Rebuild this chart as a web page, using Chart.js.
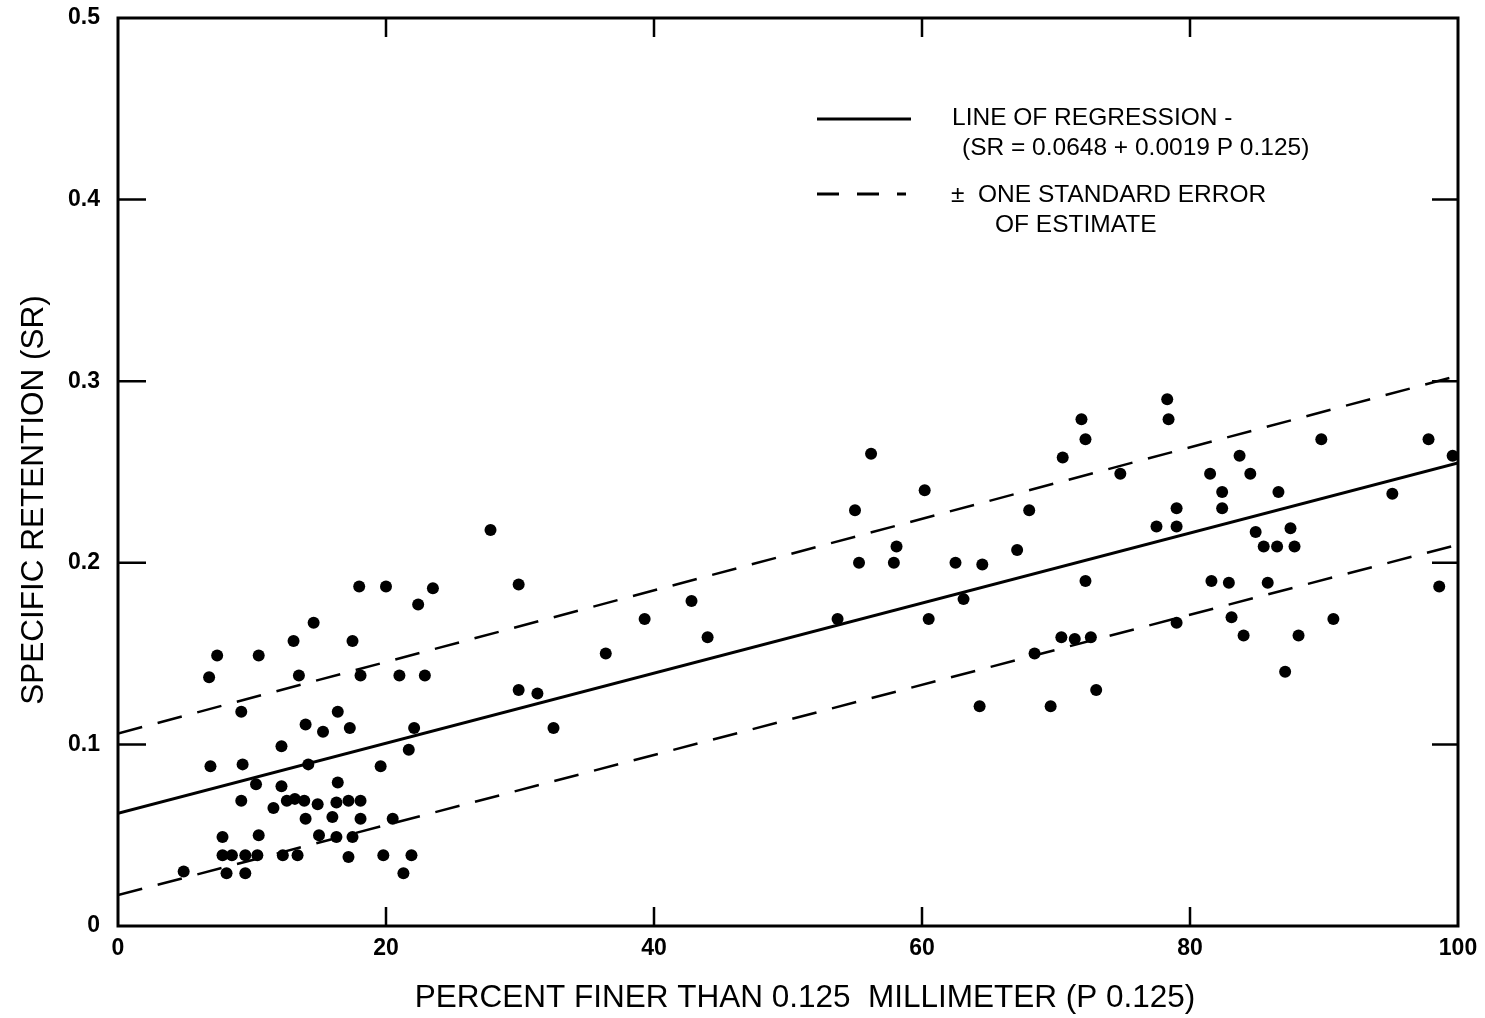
<!DOCTYPE html>
<html>
<head>
<meta charset="utf-8">
<script src="https://cdn.jsdelivr.net/npm/chart.js@4.4.0/dist/chart.umd.min.js"></script>
<style>
  html, body { margin: 0; padding: 0; background: #fff; }
</style>
</head>
<body>
<canvas id="srChart" width="1485" height="1018"></canvas>
<script>
// percent finer than 0.125 mm (x) and specific retention (y)
const pctFiner = [
  4.9, 6.8, 6.9, 7.4, 7.8, 7.8, 8.1, 8.5, 9.2, 9.3, 9.2, 9.5, 9.5, 10.3, 10.5, 10.5, 10.4,
  11.6, 12.2, 12.2, 12.3, 12.6, 13.1, 13.2, 13.5, 13.4, 13.9, 14.0, 14.0, 14.2, 14.6, 14.9,
  15.0, 15.3, 16.0, 16.4, 16.4, 16.3, 16.3, 17.3, 17.2, 17.2, 17.5, 17.5, 18.0, 18.1, 18.1,
  18.1, 19.6, 19.8, 20.0, 20.5, 21.0, 21.3, 21.7, 21.9, 22.1, 22.4, 22.9, 23.5,
  27.8, 29.9, 29.9, 31.3, 32.5, 36.4, 39.3, 42.8, 44.0,
  53.7, 55.0, 55.3, 56.2, 57.9, 58.1, 60.2, 60.5, 62.5, 63.1, 64.3, 64.5, 67.1, 68.0, 68.4,
  69.6, 70.5, 70.4, 71.4, 71.9, 72.2, 72.2, 72.6, 73.0, 74.8,
  78.3, 78.4, 83.7, 81.5, 84.5, 82.4, 86.6, 79.0, 82.4, 77.5, 79.0, 84.9, 87.5, 85.5, 86.5,
  87.8, 81.6, 82.9, 85.8, 79.0, 83.1, 84.0, 88.1, 90.7, 87.1, 89.8, 95.1, 97.8, 99.6, 98.6
];
const specRet = [
  0.030, 0.137, 0.088, 0.149, 0.049, 0.039, 0.029, 0.039, 0.118, 0.089, 0.069, 0.039, 0.029,
  0.078, 0.149, 0.050, 0.039, 0.065, 0.099, 0.077, 0.039, 0.069, 0.157, 0.070, 0.138, 0.039,
  0.069, 0.111, 0.059, 0.089, 0.167, 0.067, 0.050, 0.107, 0.060, 0.118, 0.079, 0.068, 0.049,
  0.109, 0.069, 0.038, 0.049, 0.157, 0.187, 0.138, 0.059, 0.069, 0.088, 0.039, 0.187, 0.059,
  0.138, 0.029, 0.097, 0.039, 0.109, 0.177, 0.138, 0.186,
  0.218, 0.188, 0.130, 0.128, 0.109, 0.150, 0.169, 0.179, 0.159,
  0.169, 0.229, 0.200, 0.260, 0.200, 0.209, 0.240, 0.169, 0.200, 0.180, 0.121, 0.199, 0.207,
  0.229, 0.150, 0.121, 0.258, 0.159, 0.158, 0.279, 0.268, 0.190, 0.159, 0.130, 0.249,
  0.290, 0.279, 0.259, 0.249, 0.249, 0.239, 0.239, 0.230, 0.230, 0.220, 0.220, 0.217, 0.219,
  0.209, 0.209, 0.209, 0.190, 0.189, 0.189, 0.167, 0.170, 0.160, 0.160, 0.169, 0.140, 0.268,
  0.238, 0.268, 0.259, 0.187
];

// regression line and +/- one standard error lines (end points at x = 0 and 100)
const lineX = [0, 100];
const regressY = [0.062, 0.255];
const upperY = [0.106, 0.303];
const lowerY = [0.017, 0.210];

const xTicks = [0, 20, 40, 60, 80, 100];
const yTicks = [0, 0.1, 0.2, 0.3, 0.4, 0.5];
const yTickLabels = ['0', '0.1', '0.2', '0.3', '0.4', '0.5'];

const FONT = '"Liberation Sans", Arial, Helvetica, sans-serif';

function pts(xs, ys) {
  return xs.map((v, i) => ({ x: v, y: ys[i] }));
}

// frame, inward ticks on all four sides, axis titles and the legend box
const decorPlugin = {
  id: 'decor',
  afterDraw(c) {
    const { ctx, chartArea: a, scales } = c;
    ctx.save();
    ctx.strokeStyle = '#000';
    ctx.lineWidth = 3;
    ctx.strokeRect(a.left, a.top, a.right - a.left, a.bottom - a.top);

    ctx.lineWidth = 2.5;
    ctx.beginPath();
    xTicks.slice(1, -1).forEach(v => {
      const px = scales.x.getPixelForValue(v);
      ctx.moveTo(px, a.bottom); ctx.lineTo(px, a.bottom - 19);
      ctx.moveTo(px, a.top); ctx.lineTo(px, a.top + 19);
    });
    yTicks.slice(1, -1).forEach(v => {
      const py = scales.y.getPixelForValue(v);
      ctx.moveTo(a.left, py); ctx.lineTo(a.left + 28, py);
      ctx.moveTo(a.right, py); ctx.lineTo(a.right - 26, py);
    });
    ctx.stroke();

    // axis titles
    ctx.fillStyle = '#000';
    ctx.font = '31.5px ' + FONT;
    ctx.textAlign = 'center';
    ctx.textBaseline = 'middle';
    ctx.fillText('PERCENT FINER THAN 0.125  MILLIMETER (P 0.125)', 805, 998);
    ctx.save();
    ctx.translate(34, 500);
    ctx.rotate(-Math.PI / 2);
    ctx.fillText('SPECIFIC RETENTION (SR)', 0, 0);
    ctx.restore();

    // legend
    ctx.lineWidth = 3;
    ctx.beginPath();
    ctx.moveTo(817, 119); ctx.lineTo(911, 119);
    ctx.stroke();
    ctx.setLineDash([22, 18]);
    ctx.beginPath();
    ctx.moveTo(817, 194); ctx.lineTo(906, 194);
    ctx.stroke();
    ctx.setLineDash([]);

    ctx.font = '24.5px ' + FONT;
    ctx.textAlign = 'left';
    ctx.fillText('LINE OF REGRESSION -', 952, 118);
    ctx.fillText('(SR = 0.0648 + 0.0019 P 0.125)', 962, 148);
    ctx.fillText('\u00B1  ONE STANDARD ERROR', 951, 195);
    ctx.fillText('OF ESTIMATE', 995, 225);
    ctx.restore();
  }
};

const dashStyle = {
  borderColor: '#000', borderWidth: 2.5, borderDash: [25, 16],
  pointRadius: 0, showLine: true, fill: false
};

new Chart(document.getElementById('srChart').getContext('2d'), {
  type: 'scatter',
  data: {
    datasets: [
      { label: 'Samples', data: pts(pctFiner, specRet), pointRadius: 6,
        pointBackgroundColor: '#000', pointBorderColor: '#000', pointBorderWidth: 0 },
      { label: 'Line of regression', data: pts(lineX, regressY), borderColor: '#000',
        borderWidth: 3, pointRadius: 0, showLine: true, fill: false },
      Object.assign({ label: '+ one standard error', data: pts(lineX, upperY) }, dashStyle),
      Object.assign({ label: '- one standard error', data: pts(lineX, lowerY) }, dashStyle)
    ]
  },
  options: {
    responsive: false,
    animation: false,
    layout: { padding: { top: 18, right: 27, left: 0, bottom: 0 } },
    plugins: { legend: { display: false }, tooltip: { enabled: false } },
    scales: {
      x: {
        type: 'linear', min: 0, max: 100,
        afterFit: s => { s.height = 92; s.paddingLeft = 0; s.paddingRight = 0; },
        afterBuildTicks: s => { s.ticks = xTicks.map(v => ({ value: v })); },
        grid: { display: false, drawTicks: false },
        border: { display: false },
        ticks: { padding: 9, color: '#000', font: { family: FONT, size: 23, weight: 'bold' } }
      },
      y: {
        type: 'linear', min: 0, max: 0.5,
        afterFit: s => { s.width = 118; s.paddingTop = 0; s.paddingBottom = 0; },
        afterBuildTicks: s => { s.ticks = yTicks.map(v => ({ value: v })); },
        grid: { display: false, drawTicks: false },
        border: { display: false },
        ticks: { padding: 18, color: '#000', font: { family: FONT, size: 23, weight: 'bold' },
          callback: (v, i) => yTickLabels[i] }
      }
    }
  },
  plugins: [decorPlugin]
});
</script>
</body>
</html>
